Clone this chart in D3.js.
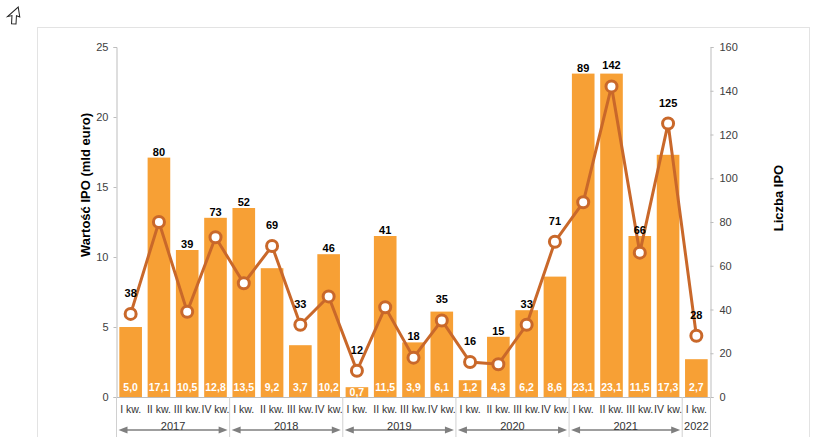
<!DOCTYPE html>
<html><head><meta charset="utf-8">
<script src="https://cdn.jsdelivr.net/npm/d3@7"></script>
<style>
html,body{margin:0;padding:0;background:#fff;}
svg{display:block;font-family:"Liberation Sans",Arial,sans-serif;}
</style></head>
<body><svg id="c" width="829" height="437"></svg>
<script>
const quarters = ["I kw.","II kw.","III kw.","IV kw.","I kw.","II kw.","III kw.","IV kw.","I kw.","II kw.","III kw.","IV kw.","I kw.","II kw.","III kw.","IV kw.","I kw.","II kw.","III kw.","IV kw.","I kw."];
const years = ["2017","2017","2017","2017","2018","2018","2018","2018","2019","2019","2019","2019","2020","2020","2020","2020","2021","2021","2021","2021","2022"];
const ipoValue = [5.0,17.1,10.5,12.8,13.5,9.2,3.7,10.2,0.7,11.5,3.9,6.1,1.2,4.3,6.2,8.6,23.1,23.1,11.5,17.3,2.7];
const ipoCount = [38,80,39,73,52,69,33,46,12,41,18,35,16,15,33,71,89,142,66,125,28];
const leftTicks = [0,5,10,15,20,25];
const rightTicks = [0,20,40,60,80,100,120,140,160];
const leftTitle = "Wartość IPO (mld euro)";
const rightTitle = "Liczba IPO";

const svg = d3.select("#c");
const W = 829, H = 437;
const x0 = 116.5, x1 = 710.5, yTop = 47, yBot = 397;
const barColor = "#F7A035", lineColor = "#C9682A", axisColor = "#BDBDBD", textColor = "#404040";

// frame
svg.append("rect").attr("x",37.5).attr("y",27.5).attr("width",772).attr("height",420)
  .attr("fill","none").attr("stroke","#E3E3E3");

// cursor icon
svg.append("path").attr("d","M14,6 L20,14 L16.5,14.5 L20,22 L16,24 L12.5,16.5 L9,19.5 Z")
  .attr("fill","#fff").attr("stroke","#222").attr("stroke-width",1)
  .attr("transform","rotate(28,14,15)");

const idx = d3.range(quarters.length);
const x = d3.scaleBand().domain(idx).range([x0,x1]).paddingInner(0.2).paddingOuter(0.1);
const yL = d3.scaleLinear().domain([0,25]).range([yBot,yTop]);
const yR = d3.scaleLinear().domain([0,160]).range([yBot,yTop]);

// axes
const gl = svg.append("g").attr("transform",`translate(${x0},0)`)
  .call(d3.axisLeft(yL).tickValues(leftTicks).tickSize(3).tickPadding(5));
const gr = svg.append("g").attr("transform",`translate(${x1},0)`)
  .call(d3.axisRight(yR).tickValues(rightTicks).tickSize(3).tickPadding(6));
[gl,gr].forEach(g=>{
  g.select(".domain").attr("stroke",axisColor);
  g.selectAll(".tick line").attr("stroke",axisColor);
  g.selectAll(".tick text").attr("fill",textColor).style("font-size","11px").style("font-family","Liberation Sans, Arial, sans-serif");
});

// bars
svg.append("g").selectAll("rect").data(idx).join("rect")
  .attr("x",i=>x(i)).attr("width",x.bandwidth())
  .attr("y",i=>yL(ipoValue[i])).attr("height",i=>yBot-yL(ipoValue[i]))
  .attr("fill",barColor);

// bottom baseline
svg.append("line").attr("x1",x0).attr("x2",x1).attr("y1",yBot+0.5).attr("y2",yBot+0.5).attr("stroke",axisColor);

// bar value labels
svg.append("g").selectAll("text").data(idx).join("text")
  .attr("x",i=>x(i)+x.bandwidth()/2)
  .attr("y",i=>Math.max(391, yL(ipoValue[i])+9))
  .attr("text-anchor","middle").attr("fill","#fff").style("font-size","10.5px").style("font-weight","bold")
  .text(i=>ipoValue[i].toFixed(1).replace(".",","));

// line
const line = d3.line().x(i=>x(i)+x.bandwidth()/2).y(i=>yR(ipoCount[i]));
svg.append("path").datum(idx).attr("d",line).attr("fill","none").attr("stroke",lineColor).attr("stroke-width",3);
svg.append("g").selectAll("circle").data(idx).join("circle")
  .attr("cx",i=>x(i)+x.bandwidth()/2).attr("cy",i=>yR(ipoCount[i])).attr("r",5.5)
  .attr("fill","#fff").attr("stroke",lineColor).attr("stroke-width",3);

// count labels
svg.append("g").selectAll("text").data(idx).join("text")
  .attr("x",i=>x(i)+x.bandwidth()/2)
  .attr("y",i=>Math.min(yL(ipoValue[i])-2, yR(ipoCount[i])-17))
  .attr("text-anchor","middle").attr("fill","#000").style("font-size","11px").style("font-weight","bold")
  .text(i=>ipoCount[i]);

// quarter labels
svg.append("g").selectAll("text").data(idx).join("text")
  .attr("x",i=>x(i)+x.bandwidth()/2).attr("y",413)
  .attr("text-anchor","middle").attr("fill","#333").style("font-size","10.5px")
  .text(i=>quarters[i]);

// year groups
const step = x.step();
const groups = d3.groups(idx, i=>years[i]).map(([yr, arr])=>({yr, a: x0 + (arr[0])*step, b: x0 + (arr[arr.length-1]+1)*step, n: arr.length}));
const seps = [x0, ...groups.map(g=>g.b)];
svg.append("g").selectAll("line").data(seps).join("line")
  .attr("x1",d=>d).attr("x2",d=>d).attr("y1",yBot).attr("y2",H)
  .attr("stroke","#D0D0D0");
const arrowColor = "#7F7F7F";
const ag = svg.append("g");
groups.filter(g=>g.n>1).forEach(g=>{
  const a = g.a+2, b = g.b-2, yy = 430;
  ag.append("line").attr("x1",a+6).attr("x2",b-6).attr("y1",yy).attr("y2",yy).attr("stroke",arrowColor).attr("stroke-width",1.5);
  ag.append("path").attr("d",`M${a},${yy} L${a+9},${yy-3.5} L${a+9},${yy+3.5} Z`).attr("fill",arrowColor);
  ag.append("path").attr("d",`M${b},${yy} L${b-9},${yy-3.5} L${b-9},${yy+3.5} Z`).attr("fill",arrowColor);
});
svg.append("g").selectAll("text").data(groups).join("text")
  .attr("x",g=>(g.a+g.b)/2).attr("y",430)
  .attr("text-anchor","middle").attr("fill","#333").style("font-size","11px")
  .text(g=>g.yr);

// axis titles
svg.append("text").attr("transform","translate(90,185) rotate(-90)")
  .attr("text-anchor","middle").attr("fill","#000").style("font-size","13px").style("font-weight","bold")
  .text(leftTitle);
svg.append("text").attr("transform","translate(783,198) rotate(-90)")
  .attr("text-anchor","middle").attr("fill","#000").style("font-size","13px").style("font-weight","bold")
  .text(rightTitle);
</script></body></html>
